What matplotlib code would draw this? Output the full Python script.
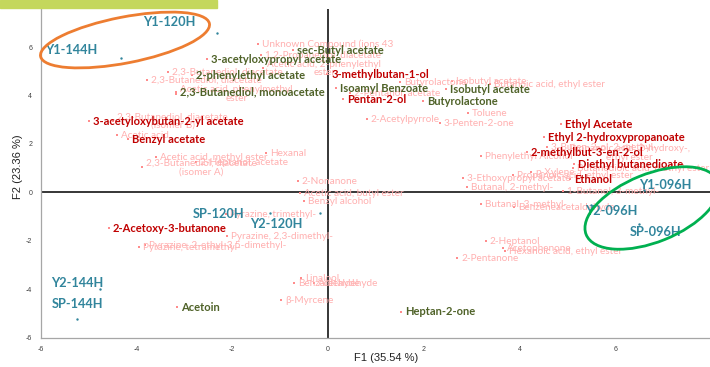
import matplotlib
matplotlib.use("Agg")
import matplotlib.pyplot as plt
from matplotlib.patches import Ellipse, Rectangle
from matplotlib.transforms import IdentityTransform

# ---------------- data ----------------
obs_names = ["Y1-120H", "Y1-144H", "Y1-096H", "Y2-096H", "SP-096H",
             "SP-120H", "Y2-120H", "Y2-144H", "SP-144H"]
obs_x = [-2.31, -4.33, 6.60, 5.48, 6.48, -1.21, -0.17, -4.75, -5.23]
obs_y = [6.57, 5.54, 0.08, -0.54, -1.32, -0.87, -0.87, -4.01, -5.21]

green_names = ["sec-Butyl acetate", "3-acetyloxypropyl acetate", "2-phenylethyl acetate",
               "2,3-Butanediol, monoacetate", "Isoamyl Benzoate", "Isobutyl acetate",
               "Butyrolactone", "Acetoin", "Heptan-2-one"]
green_x = [-0.73, -2.52, -2.83, -3.17, 0.17, 2.46, 1.98, -3.15, 1.52]
green_y = [5.87, 5.50, 4.83, 4.13, 4.30, 4.26, 3.76, -4.75, -4.92]

red_names = ["3-methylbutan-1-ol", "Pentan-2-ol", "3-acetyloxybutan-2-yl acetate",
             "Benzyl acetate", "Ethyl Acetate", "Ethyl 2-hydroxypropanoate",
             "2-methylbut-3-en-2-ol", "Diethyl butanedioate", "Ethanol",
             "2-Acetoxy-3-butanone"]
red_x = [-0.02, 0.31, -4.98, -4.17, 4.85, 4.50, 4.15, 5.13, 5.04, -4.58]
red_y = [4.88, 3.84, 2.93, 2.19, 2.81, 2.27, 1.65, 1.16, 0.54, -1.49]

pink_names = ["Unknown Compound (ions 43", "1,2-Propanediol, diacetate",
              "Acetic acid, 2-phenylethyl\nester", "2,3-Butanediol, diacetate",
              "2,3-Butanediol, diacetate", "Acetic acid, phenylmethyl\nester",
              "2,3-Butanediol, diacetate\n(isomer B)", "Acetic acid",
              "Acetic acid, methyl ester", "Hexanal",
              "2,3-Butanediol, diacetate\n(isomer A)", "2-Heptanol, acetate",
              "2-Nonanone", "Acetic acid, butyl ester", "Benzyl alcohol",
              "Butyrolactone", "2-Pentanol, acetate", "Isobutyl acetate",
              "Butanoic acid, ethyl ester", "2-Acetylpyrrole", "3-Penten-2-one",
              "Toluene", "Phenylethyl Alcohol", "3-Buten-2-ol, 2-methyl-",
              "Propanoic acid, 2-hydroxy-,\nethyl ester", "p-Xylene",
              "Butanedioic acid, diethyl ester", "Propanoic acid, ethyl ester",
              "3-Ethoxypropyl acetate", "Butanal, 2-methyl-", "1-Butanol, 3-methyl-",
              "Butanal, 3-methyl-", "Benzeneacetaldehyde", "2-Heptanol",
              "Acetophenone", "Hexanoic acid, ethyl ester", "2-Pentanone",
              "Linalool", "Acetaldehyde", "Benzaldehyde", "β-Myrcene",
              "Pyrazine, trimethyl-", "Pyrazine, 2,3-dimethyl-",
              "Pyrazine, 2-ethyl-3,5-dimethyl-", "Pyrazine, tetramethyl-"]
pink_x = [-1.46, -1.40, -1.35, -3.33, -3.77, -3.17, -4.48, -4.40, -3.60, -1.29,
          -3.88, -2.75, -0.63, -0.58, -0.50, 1.50, 0.46, 2.58, 3.38, 0.81, 2.33,
          2.92, 3.19, 4.56, 4.95, 4.23, 5.10, 3.85, 2.81, 2.90, 4.90, 3.19, 3.88,
          3.29, 3.65, 3.69, 2.69, -0.56, -0.29, -0.71, -0.98, -2.13, -2.10,
          -3.81, -3.94]
pink_y = [6.12, 5.66, 5.12, 4.96, 4.63, 4.05, 2.94, 2.36, 1.45, 1.61, 1.03, 1.24,
          0.45, -0.04, -0.37, 4.55, 4.09, 4.59, 4.46, 3.02, 2.85, 3.26, 1.49, 1.86,
          1.62, 0.83, 0.99, 0.70, 0.58, 0.21, 0.04, -0.50, -0.62, -2.02, -2.31,
          -2.44, -2.73, -3.55, -3.76, -3.76, -4.46, -0.91, -1.82, -2.19, -2.27]

# observation label offsets (pixels; layout only)
obs_dx = [-48, -49, 21, 21, 17, -52, -44, -23, 0]
obs_dy = [11, 8, 5, -6, -8, -1, -11, 6, 15]

x_ticks = [-6, -4, -2, 0, 2, 4, 6]
y_ticks = [-6, -4, -2, 0, 2, 4, 6]

# ---------------- style ----------------
BLUE = "#31859c"
RED = "#c00000"
GREEN = "#4f6228"
PINK = "#ffb0b0"
PINKDOT = "#ff8c8c"
FONT = "Lato"

W, H = 710, 367
fig = plt.figure(figsize=(W / 100, H / 100), dpi=100)
left_px, right_px, top_px, bot_px = 40.5, 711.5, 9, 337.7
ax = fig.add_axes([left_px / W, (H - bot_px) / H,
                   (right_px - left_px) / W, (bot_px - top_px) / H])
ax.set_xlim(-6, 8)
ax.set_ylim(-6, 7.57)

for s in ["top", "right"]:
    ax.spines[s].set_visible(False)
for s in ["left", "bottom"]:
    ax.spines[s].set_color("#a6a6a6")
    ax.spines[s].set_linewidth(0.9)

ax.set_xticks(x_ticks)
ax.set_yticks(y_ticks)
ax.tick_params(length=0, labelsize=5, labelcolor="#404040", pad=6)
ax.set_xticklabels([str(v) for v in x_ticks], family="Liberation Sans")
ax.set_yticklabels([str(v) for v in y_ticks], family="Liberation Sans")

ax.axhline(0, color="black", lw=1.1, zorder=1)
ax.axvline(0, color="black", lw=1.1, zorder=1)

ax.set_xlabel("F1 (35.54 %)", family="Liberation Sans", fontsize=8, color="#222222")
ax.set_ylabel("F2 (23.36 %)", family="Liberation Sans", fontsize=8, color="#222222")
ax.xaxis.set_label_coords(0.515, -0.048)
ax.yaxis.set_label_coords(-0.026, 0.52)

# pink variables
ax.scatter(pink_x, pink_y, s=2, color=PINKDOT, marker="s", lw=0, zorder=2)
for n, x, y in zip(pink_names, pink_x, pink_y):
    ax.annotate(n, (x, y), xytext=(4, 0), textcoords="offset pixels",
                ha="left", va="center", multialignment="center",
                fontsize=7.2, color=PINK, family=FONT, zorder=3,
                linespacing=0.95)

# highlighted variables
ax.scatter(green_x + red_x, green_y + red_y, s=2, color=PINKDOT, marker="s",
           lw=0, zorder=2)
for names, xs, ys, c in [(green_names, green_x, green_y, GREEN),
                         (red_names, red_x, red_y, RED)]:
    for n, x, y in zip(names, xs, ys):
        ax.annotate(n, (x, y), xytext=(4, 0), textcoords="offset pixels",
                    ha="left", va="center", fontsize=8.0, fontweight="bold",
                    color=c, family=FONT, zorder=5)

# observations
ax.scatter(obs_x, obs_y, s=3, color=BLUE, lw=0, zorder=4)
for n, x, y, dx, dy in zip(obs_names, obs_x, obs_y, obs_dx, obs_dy):
    ax.annotate(n, (x, y), xytext=(dx, dy), textcoords="offset pixels",
                ha="center", va="center", fontsize=9.2, fontweight="bold",
                color=BLUE, family=FONT, zorder=6)

# annotation shapes (pixel space)
fig.patches.append(Ellipse((125, H - 40), 172, 46, angle=11, fill=False,
                           edgecolor="#ed7d31", lw=2.0,
                           transform=IdentityTransform(), figure=fig))
fig.patches.append(Ellipse((652, H - 208), 142, 68, angle=22, fill=False,
                           edgecolor="#00b050", lw=2.0,
                           transform=IdentityTransform(), figure=fig))
fig.patches.append(Rectangle((0, H - 8), 217, 8, color="#c4d75c",
                             transform=IdentityTransform(), figure=fig))

fig.savefig("out.png", dpi=100)
